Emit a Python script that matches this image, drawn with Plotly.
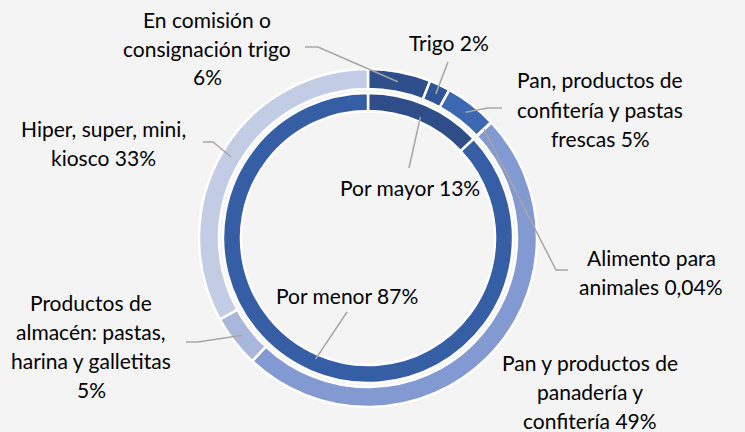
import math
import plotly.graph_objects as go

# ---------------- data ----------------
outer_labels = [
    "En comisión o consignación trigo",
    "Trigo",
    "Pan, productos de confitería y pastas frescas",
    "Alimento para animales",
    "Pan y productos de panadería y confitería",
    "Productos de almacén: pastas, harina y galletitas",
    "Hiper, super, mini, kiosco",
]
outer_values = [6, 2, 5, 0.04, 49, 5, 33]
outer_text_lines = [
    ["En comisión o", "consignación trigo", "6%"],
    ["Trigo 2%"],
    ["Pan, productos de", "confitería y pastas", "frescas 5%"],
    ["Alimento para", "animales 0,04%"],
    ["Pan y productos de", "panadería y", "confitería 49%"],
    ["Productos de", "almacén: pastas,", "harina y galletitas", "5%"],
    ["Hiper, super, mini,", "kiosco 33%"],
]
inner_labels = ["Por mayor", "Por menor"]
inner_values = [13, 87]
inner_text_lines = [["Por mayor 13%"], ["Por menor 87%"]]

# ---------------- layout constants (pixels) ----------------
W, H = 745, 432
CX, CY = 368, 238
R_OUT, R_OUT_IN = 169, 149
R_IN, R_IN_IN = 145, 127
LINE_H = 29
FONT = "Lato, 'Open Sans', sans-serif"
FSIZE = 21

outer_colors = ["#2F4F8C", "#2F5597", "#3C67B1", "#2F5597", "#8299D1", "#A9B7DC", "#C2CCE5"]
inner_colors = ["#2F4E89", "#365EA5"]

# label centre x, first line y
outer_label_pos = [(207, 19), (449, 43), (600, 80), (651, 257), (590, 362), (91, 302), (104, 128)]
inner_label_pos = [(410, 188), (347, 295)]
# leader: (text-end point, elbow point) or None
outer_leaders = [((305, 47), (318, 47)), ((448, 62), None), ((502, 108), (488, 108)),
                 ((568, 270), (556, 270)), None, ((186, 342), (198, 342)), ((203, 142), (213, 142))]
inner_leaders = [((409, 168), None), ((347, 312), None)]


def px(x):
    return x / W


def py(y):
    return 1 - y / H


def anchor(values, idx, r):
    tot = sum(values)
    mid = (sum(values[:idx]) + values[idx] / 2) / tot * 2 * math.pi
    return CX + r * math.sin(mid), CY - r * math.cos(mid)


fig = go.Figure()
fig.add_trace(go.Pie(
    labels=outer_labels, values=outer_values, sort=False, direction="clockwise", rotation=0,
    hole=R_OUT_IN / R_OUT, textinfo="none", hoverinfo="label+value",
    marker=dict(colors=outer_colors, line=dict(color="white", width=2.5)),
    domain=dict(x=[px(CX - R_OUT), px(CX + R_OUT)], y=[py(CY + R_OUT), py(CY - R_OUT)]),
    showlegend=False,
))
fig.add_trace(go.Pie(
    labels=inner_labels, values=inner_values, sort=False, direction="clockwise", rotation=0,
    hole=R_IN_IN / R_IN, textinfo="none", hoverinfo="label+value",
    marker=dict(colors=inner_colors, line=dict(color="white", width=2.5)),
    domain=dict(x=[px(CX - R_IN), px(CX + R_IN)], y=[py(CY + R_IN), py(CY - R_IN)]),
    showlegend=False,
))

annotations = []
shapes = []


def add_labels(lines_list, positions):
    for lines, (x, y0) in zip(lines_list, positions):
        for k, line in enumerate(lines):
            annotations.append(dict(
                x=px(x), y=py(y0 + k * LINE_H), xref="paper", yref="paper",
                text=line, showarrow=False, xanchor="center", yanchor="middle",
                font=dict(family=FONT, size=FSIZE, color="#000000"),
            ))


def add_leaders(leaders, values, r):
    for i, ld in enumerate(leaders):
        if ld is None:
            continue
        start, elbow = ld
        ax, ay = anchor(values, i, r)
        pts = [start] + ([elbow] if elbow else []) + [(ax, ay)]
        path = "M " + " L ".join(f"{px(a):.5f},{py(b):.5f}" for a, b in pts)
        shapes.append(dict(type="path", path=path, xref="paper", yref="paper",
                           line=dict(color="#A6A6A6", width=1.5)))


add_labels(outer_text_lines, outer_label_pos)
add_labels(inner_text_lines, inner_label_pos)
add_leaders(outer_leaders, outer_values, (R_OUT + R_OUT_IN) / 2)
add_leaders(inner_leaders, inner_values, (R_IN + R_IN_IN) / 2 - 4)

fig.update_layout(
    width=W, height=H, margin=dict(l=0, r=0, t=0, b=0),
    paper_bgcolor="#F4F4F4", plot_bgcolor="#F4F4F4",
    annotations=annotations, shapes=shapes,
)
fig.write_html(
    "out.html",
    config={"displayModeBar": False},
    post_script="document.body.style.margin='0px';document.body.style.overflow='hidden';",
)
